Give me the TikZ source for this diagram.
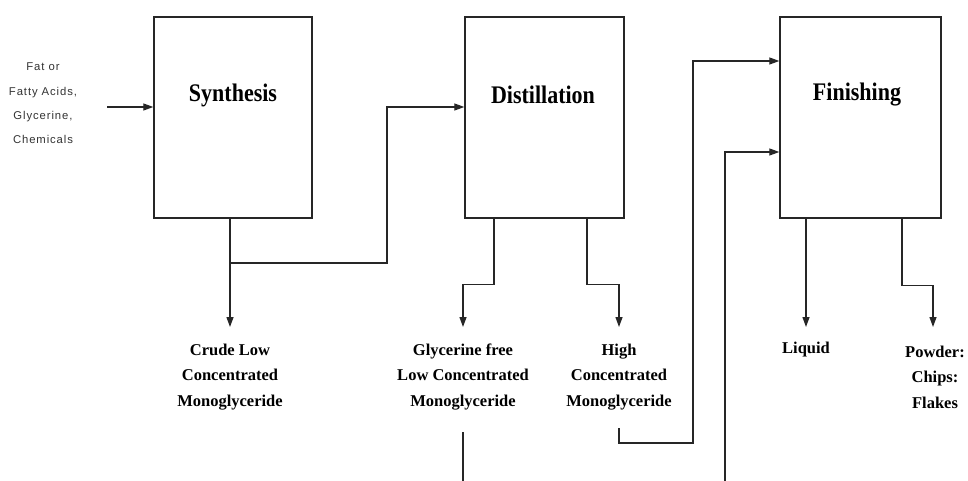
\documentclass[tikz,border=0pt]{standalone}
\usepackage{fontspec}
\setmainfont{Liberation Serif}
\newfontfamily\inpfont[LetterSpace=8]{Liberation Sans}
\usetikzlibrary{arrows.meta,calc}
\tikzset{
  boxnode/.style={draw=black!85, line width=1.4pt, minimum width=158pt, minimum height=201pt, inner sep=0pt},
  boxlbl/.style={font=\fontsize{22}{26}\selectfont\bfseries, inner sep=0pt},
  lbl/.style={font=\fontsize{16.5}{25.5}\selectfont\bfseries, align=center, inner sep=0pt},
  inlbl/.style={font=\inpfont\fontsize{11.3}{24.3}\selectfont, text=black!80, align=center, inner sep=0pt},
  wire/.style={draw=black!85, line width=1.3pt},
  arr/.style={wire, -{Triangle[length=10pt,width=7pt]}}
}
\begin{document}
\begin{tikzpicture}[x=1pt,y=-1pt]
\useasboundingbox[fill=white] (0,0) rectangle (968,481);
% boxes
\node[boxnode] (syn) at (233,117.5) {};
\node[boxnode, minimum width=159pt] (dist) at (544.5,117.5) {};
\node[boxnode, minimum width=161pt] (fin) at (860.5,117.5) {};
\node[boxlbl] (synl) at (233,95) {\scalebox{1}[1.15]{Synthesis}};
\node[boxlbl] (distl) at (543,95) {\scalebox{1}[1.15]{Distillation}};
\node[boxlbl] (finl) at (857,95) {\scalebox{1}[1.15]{Finishing}};
% input
\node[inlbl] (inp) at (43,103.5) {Fat or\\Fatty Acids,\\Glycerine,\\Chemicals};
\coordinate (inps) at (107,107);
\draw[arr] (inps) -- (inps -| syn.west);
% labels
\node[lbl] (crude) at (230,377) {Crude Low\\Concentrated\\Monoglyceride};
\node[lbl] (gfree) at (463,377) {Glycerine free\\Low Concentrated\\Monoglyceride};
\node[lbl] (high) at (619,377) {High\\Concentrated\\Monoglyceride};
\node[lbl] (liq) at (806,350) {Liquid};
\node[lbl] (pow) at (935,377) {Powder:\\Chips:\\Flakes};
% synthesis outputs
\coordinate (j1) at (230,263);
\coordinate (c1) at (387,107);
\draw[arr] (syn.south -| crude) -- ($(crude.center)+(0,-50)$);
\draw[arr] (j1) -| (c1) -- (c1 -| dist.west);
% distillation outputs
\draw[arr] ($(dist.south)+(-50.5,0)$) -- ++(0,66) -| ($(gfree.center)+(0,-50)$);
\draw[arr] ($(dist.south)+(42.5,0)$) -- ++(0,66) -| ($(high.center)+(0,-50)$);
% recycle lines to finishing
\coordinate (h1) at (693,61);
\coordinate (h2) at (725,152);
\draw[arr] ($(high.center)+(0,51)$) -- ++(0,15) -| (h1) -- (h1 -| fin.west);
\draw[wire] ($(gfree.center)+(0,55)$) -- ++(0,49);
\draw[arr] (725,481) -- (h2) -- (h2 -| fin.west);
% finishing outputs
\draw[arr] (fin.south -| liq) -- ($(liq.center)+(0,-23)$);
\draw[arr] ($(fin.south)+(41.5,0)$) -- ++(0,67) -| ($(pow.center)+(-2,-50)$);
\end{tikzpicture}
\end{document}
